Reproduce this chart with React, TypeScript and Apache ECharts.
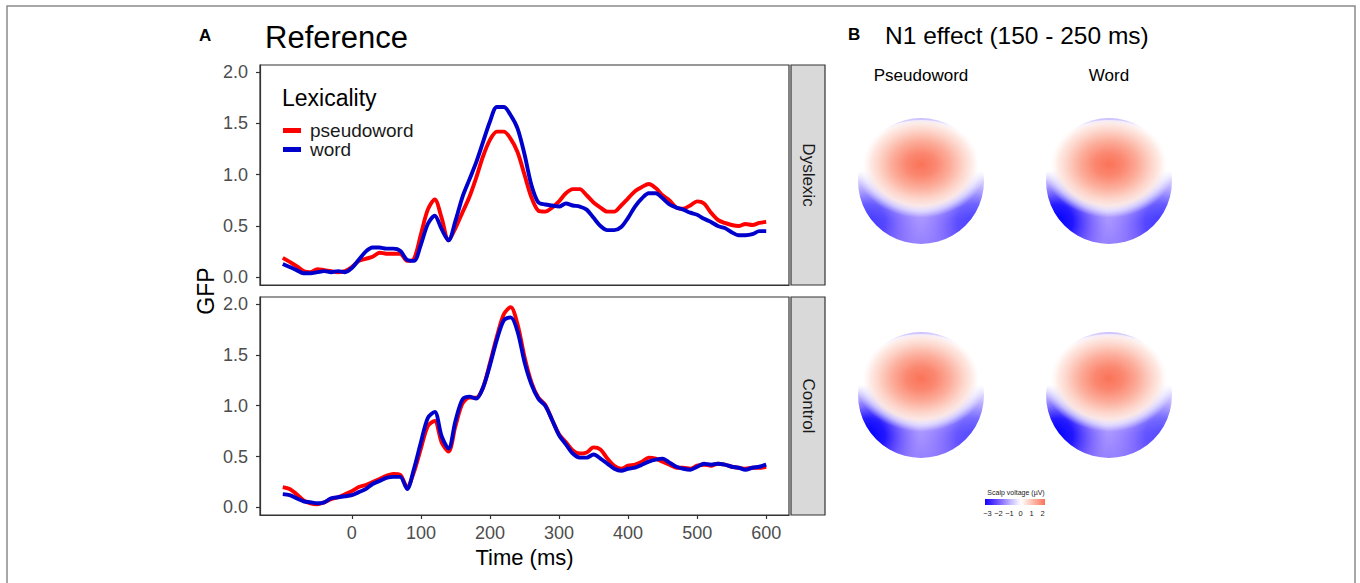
import React, { useEffect, useRef } from 'react';
import * as echarts from 'echarts';

const TIMES = [
  -100, -90, -80, -70, -60, -50, -40, -30, -20, -10, 0, 10, 20, 30, 40, 50, 60, 70, 80, 90,
  100, 110, 120, 130, 140, 150, 160, 170, 180, 190, 200, 210, 220, 230, 240, 250, 260, 270, 280, 290,
  300, 310, 320, 330, 340, 350, 360, 370, 380, 390, 400, 410, 420, 430, 440, 450, 460, 470, 480, 490,
  500, 510, 520, 530, 540, 550, 560, 570, 580, 590, 600,
];

const DYSLEXIC_PSEUDOWORD = [
  0.19, 0.15, 0.11, 0.06, 0.05, 0.08, 0.07, 0.06, 0.05, 0.06, 0.1, 0.16, 0.18, 0.2, 0.24, 0.23, 0.23, 0.23, 0.16, 0.18,
  0.42, 0.66, 0.76, 0.58, 0.36, 0.48, 0.63, 0.78, 0.97, 1.18, 1.34, 1.42, 1.42, 1.35, 1.22, 1.0, 0.78, 0.65, 0.64, 0.68,
  0.74, 0.82, 0.86, 0.86, 0.8, 0.73, 0.68, 0.64, 0.64, 0.7, 0.77, 0.84, 0.88, 0.91, 0.87, 0.8, 0.75, 0.68, 0.67, 0.7,
  0.74, 0.72, 0.63, 0.56, 0.53, 0.51, 0.5, 0.52, 0.51, 0.53, 0.54,
];
const DYSLEXIC_WORD = [
  0.13, 0.1, 0.07, 0.04, 0.04, 0.05, 0.06, 0.05, 0.06, 0.05, 0.09, 0.17, 0.25, 0.29, 0.29, 0.28, 0.28, 0.26, 0.17, 0.16,
  0.32, 0.52, 0.6, 0.47, 0.36, 0.55, 0.78, 0.95, 1.12, 1.32, 1.52, 1.66, 1.66, 1.58, 1.45, 1.2, 0.9, 0.73, 0.71, 0.7,
  0.69, 0.72, 0.7, 0.69, 0.66, 0.58, 0.5, 0.46, 0.46, 0.49, 0.58, 0.69, 0.77, 0.82, 0.82, 0.77, 0.71, 0.68, 0.66, 0.63,
  0.61, 0.57, 0.54, 0.5, 0.48, 0.44, 0.41, 0.41, 0.42, 0.45, 0.45,
];
const CONTROL_PSEUDOWORD = [
  0.2, 0.18, 0.13, 0.07, 0.04, 0.03, 0.05, 0.08, 0.1, 0.13, 0.16, 0.2, 0.22, 0.25, 0.28, 0.31, 0.33, 0.32, 0.2, 0.35,
  0.58, 0.8, 0.85, 0.64, 0.55, 0.8, 1.02, 1.08, 1.08, 1.18, 1.42, 1.68, 1.9, 1.97, 1.8, 1.48, 1.23, 1.08, 1.01, 0.86,
  0.72, 0.64, 0.56, 0.53, 0.54, 0.59, 0.57, 0.48, 0.41, 0.38, 0.41, 0.42, 0.45, 0.49, 0.48, 0.45, 0.42, 0.39, 0.39, 0.38,
  0.41, 0.42, 0.41, 0.43, 0.42, 0.4, 0.39, 0.38, 0.39, 0.39, 0.4,
];
const CONTROL_WORD = [
  0.13, 0.12, 0.09, 0.06, 0.05, 0.04, 0.05, 0.09, 0.1, 0.11, 0.12, 0.15, 0.18, 0.23, 0.26, 0.29, 0.3, 0.3, 0.18, 0.38,
  0.64, 0.88, 0.94, 0.7, 0.58, 0.85, 1.06, 1.09, 1.07, 1.18, 1.4, 1.65, 1.84, 1.87, 1.73, 1.43, 1.21, 1.07, 1.0, 0.86,
  0.71, 0.62, 0.53, 0.49, 0.49, 0.52, 0.48, 0.43, 0.38, 0.36, 0.38, 0.39, 0.42, 0.45, 0.47, 0.48, 0.44, 0.4, 0.38, 0.37,
  0.4, 0.43, 0.42, 0.43, 0.42, 0.4, 0.39, 0.37, 0.39, 0.4, 0.42,
];

const X_TICKS = [0, 100, 200, 300, 400, 500, 600];
const Y_TICKS = [0, 0.5, 1, 1.5, 2];
const GROUPS = ['Dyslexic', 'Control'];
const CONDITIONS = ['pseudoword', 'word'];
const MAP_LABELS = ['Pseudoword', 'Word'];
const COLORBAR_TICKS = ['\u22123', '\u22122', '\u22121', '0', '1', '2'];

const FONT = '"Liberation Sans", Arial, Helvetica, sans-serif';
const RED = '#ff0000';
const BLUE = '#0000cd';

const GRIDS = [
  { left: 260, top: 65, width: 529, height: 220 },
  { left: 260, top: 297, width: 529, height: 218 },
];

function scalpMap(cx: number, cy: number, r: number, blueLeft: number, blueRight: number) {
  const base = {
    type: 'linear', x: 0, y: 0, x2: 0, y2: 1,
    colorStops: [
      { offset: 0, color: '#c8bcff' },
      { offset: 0.05, color: '#ebe6ff' },
      { offset: 0.11, color: '#ffffff' },
      { offset: 0.42, color: '#ffffff' },
      { offset: 0.6, color: '#dcd3ff' },
      { offset: 0.8, color: '#a996ff' },
      { offset: 1, color: '#9580ff' },
    ],
  };
  const blob = (x: number, a: number) => ({
    type: 'radial', x, y: 0.82, r: 0.45,
    colorStops: [
      { offset: 0, color: `rgba(0,0,255,${a})` },
      { offset: 0.3, color: `rgba(10,0,255,${a * 0.85})` },
      { offset: 0.6, color: `rgba(50,25,255,${a * 0.4})` },
      { offset: 0.9, color: 'rgba(90,70,255,0)' },
      { offset: 1, color: 'rgba(90,70,255,0)' },
    ],
  });
  const redFill = {
    type: 'radial', x: 0.5, y: 0.42, r: 0.5,
    colorStops: [
      { offset: 0, color: '#fa7358' },
      { offset: 0.22, color: '#fb8770' },
      { offset: 0.45, color: '#fcae9c' },
      { offset: 0.64, color: '#fdd4c9' },
      { offset: 0.77, color: 'rgba(254,234,228,0.95)' },
      { offset: 0.88, color: 'rgba(255,255,255,0.55)' },
      { offset: 1, color: 'rgba(255,255,255,0)' },
    ],
  };
  return {
    type: 'group', x: cx, y: cy, silent: true,
    children: [
      { type: 'circle', shape: { cx: 0, cy: 0, r }, style: { fill: base } },
      { type: 'circle', shape: { cx: 0, cy: 0, r }, style: { fill: blob(0.08, blueLeft) } },
      { type: 'circle', shape: { cx: 0, cy: 0, r }, style: { fill: blob(0.92, blueRight) } },
      { type: 'ellipse', shape: { cx: 0, cy: -8, rx: r + 3, ry: r - 10 }, style: { fill: redFill } },
    ],
  };
}

function txt(x: number, y: number, text: string, fontSize: number, opts: any = {}) {
  return {
    type: 'text', x, y, rotation: opts.rotation || 0, silent: true,
    style: {
      text, fontSize, fontFamily: FONT, fill: opts.fill || '#000',
      fontWeight: opts.bold ? 'bold' : 'normal',
      align: opts.align || 'left', verticalAlign: 'middle',
    },
  };
}

export default function App() {
  const ref = useRef<HTMLDivElement>(null);
  useEffect(() => {
    if (!ref.current) return;
    const chart = echarts.init(ref.current, undefined, { renderer: 'svg' });
    const groupData = [
      [DYSLEXIC_PSEUDOWORD, DYSLEXIC_WORD],
      [CONTROL_PSEUDOWORD, CONTROL_WORD],
    ];
    const series: any[] = [];
    groupData.forEach((pair, g) => {
      pair.forEach((vals, c) => {
        const color = c === 0 ? RED : BLUE;
        series.push({
          name: CONDITIONS[c], type: 'line', xAxisIndex: g, yAxisIndex: g,
          data: TIMES.map((t, i) => [t, vals[i]]),
          showSymbol: false, smooth: 0.3, silent: true,
          lineStyle: { width: 3.9, color }, itemStyle: { color },
          z: 2 + c,
        });
      });
    });

    const axisLine = { show: true, onZero: false, lineStyle: { color: '#333', width: 1.2 } };
    const xAxes = GRIDS.map((_, g) => ({
      gridIndex: g, type: 'value', min: -133, max: 633,
      axisLine,
      splitLine: { show: false },
      axisTick: { show: g === 1, customValues: X_TICKS, length: 4, lineStyle: { color: '#333', width: 1.2 } },
      axisLabel: { show: g === 1, customValues: X_TICKS, fontSize: 18, color: '#4d4d4d', fontFamily: FONT, margin: 9 },
    }));
    const yAxes = GRIDS.map((_, g) => ({
      gridIndex: g, type: 'value', min: -0.075, max: 2.07,
      axisLine,
      splitLine: { show: false },
      axisTick: { show: true, customValues: Y_TICKS, length: 4, lineStyle: { color: '#333', width: 1.2 } },
      axisLabel: {
        customValues: Y_TICKS, fontSize: 18, color: '#4d4d4d', fontFamily: FONT, margin: 12,
        formatter: (v: number) => v.toFixed(1),
      },
    }));

    const graphic: any[] = [
      { type: 'rect', silent: true, shape: { x: 7, y: 6, width: 1348, height: 620 }, style: { fill: 'none', stroke: '#8a8a8a', lineWidth: 1.5 } },
      txt(199, 35, 'A', 17, { bold: true }),
      txt(265, 37, 'Reference', 31),
      txt(848, 34, 'B', 17, { bold: true }),
      txt(885, 35, 'N1 effect (150 - 250 ms)', 24.5),
      txt(282, 98, 'Lexicality', 23, { fill: '#000' }),
      txt(206, 291, 'GFP', 23, { rotation: Math.PI / 2, align: 'center' }),
      txt(524.5, 557, 'Time (ms)', 22, { align: 'center' }),
    ];
    GRIDS.forEach((gr, g) => {
      graphic.push({
        type: 'rect', silent: true,
        shape: { x: gr.left + gr.width + 2, y: gr.top, width: 34, height: gr.height },
        style: { fill: '#d9d9d9', stroke: '#333', lineWidth: 1.2 },
      });
      graphic.push(txt(gr.left + gr.width + 19, gr.top + gr.height / 2, GROUPS[g], 17,
        { rotation: -Math.PI / 2, align: 'center', fill: '#1a1a1a' }));
    });
    // topographic maps
    const mapCols = [921, 1109];
    const mapRows = [181, 395];
    const blues = [[0.6, 0.55], [1.0, 0.6], [1.0, 0.5], [1.0, 0.5]];
    MAP_LABELS.forEach((lab, i) => graphic.push(txt(mapCols[i], 75, lab, 17, { align: 'center' })));
    mapRows.forEach((cy, ri) => mapCols.forEach((cx, ci) => {
      const b = blues[ri * 2 + ci];
      graphic.push(scalpMap(cx, cy, 63, b[0], b[1]));
    }));
    // colour bar
    graphic.push(txt(1016, 492, 'Scalp voltage (\u00b5V)', 7, { align: 'center', fill: '#1a1a1a' }));
    graphic.push({
      type: 'rect', silent: true, shape: { x: 985, y: 499, width: 60, height: 6 },
      style: {
        fill: {
          type: 'linear', x: 0, y: 0, x2: 1, y2: 0,
          colorStops: [
            { offset: 0, color: '#1400ff' },
            { offset: 0.2, color: '#6a4dff' },
            { offset: 0.42, color: '#c2b6ff' },
            { offset: 0.6, color: '#ffffff' },
            { offset: 0.8, color: '#fdbcab' },
            { offset: 1, color: '#fa7358' },
          ],
        },
      },
    });
    const cbX = [987.5, 998.5, 1009.5, 1020.5, 1031.5, 1042.5];
    COLORBAR_TICKS.forEach((t, i) => graphic.push(txt(cbX[i], 513, t, 7.5, { align: 'center', fill: '#1a1a1a' })));

    chart.setOption({
      animation: false,
      backgroundColor: '#ffffff',
      grid: GRIDS.map((gr) => ({ ...gr, show: true, borderColor: '#333', borderWidth: 1.2, backgroundColor: '#fff', containLabel: false })),
      xAxis: xAxes,
      yAxis: yAxes,
      legend: {
        left: 283, top: 121, orient: 'vertical', padding: 0, itemGap: 0,
        itemWidth: 18, itemHeight: 5, icon: 'rect', selectedMode: false,
        data: CONDITIONS,
        textStyle: { fontSize: 19, color: '#1a1a1a', fontFamily: FONT, lineHeight: 18.5, padding: [0, 0, 0, 4] },
      },
      series,
      graphic,
    });
    return () => chart.dispose();
  }, []);
  return <div ref={ref} style={{ position: 'absolute', left: 0, top: 0, width: 1360, height: 583 }} />;
}
